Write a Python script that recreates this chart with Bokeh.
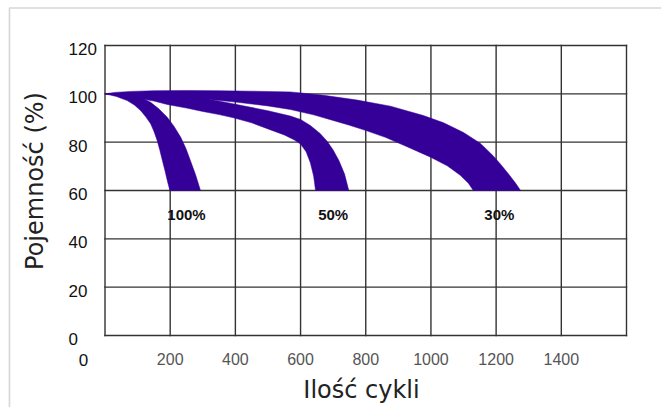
import math
from bokeh.plotting import figure
from bokeh.models import Range1d, ColumnDataSource, LabelSet, Label, BoxAnnotation
from bokeh.core.properties import value
from bokeh.embed import file_html
from bokeh.resources import INLINE

# ---- data -------------------------------------------------------------
x_grid_ticks = [0, 200, 400, 600, 800, 1000, 1200, 1400, 1600]
x_label_ticks = [200, 400, 600, 800, 1000, 1200, 1400]
x_tick_labels = ["200", "400", "600", "800", "1000", "1200", "1400"]
y_ticks = [0, 20, 40, 60, 80, 100, 120]
y_tick_labels = ["0", "20", "40", "60", "80", "100", "120"]

x_title = "Ilość cykli"
y_title = "Pojemność (%)"

band_names = ["100%", "50%", "30%"]
band_label_x = [250, 700, 1210]
band_label_y = [50, 50, 50]

# 100% depth of discharge band
d100_upper_x = [0, 40, 87, 115, 140, 165, 191, 212, 232, 248, 262, 278, 293]
d100_upper_y = [100, 99.8, 99.3, 98.2, 96.5, 93.8, 90.3, 86.5, 82.1, 77.5, 72.4, 66.5, 60]
d100_lower_x = [0, 35, 68, 90, 109, 125, 140, 150, 160, 168, 176, 184, 191, 199]
d100_lower_y = [100, 98.9, 97.2, 95.4, 93.1, 90.5, 87.6, 84.5, 80.7, 76.8, 72.4, 68.2, 64.1, 60]

# 50% depth of discharge band
d50_upper_x = [0, 80, 150, 250, 313, 400, 500, 569, 600, 630, 660, 682, 700, 718, 735, 748]
d50_upper_y = [100, 100.4, 100.1, 99.0, 98.0, 95.7, 93.0, 90.8, 89.4, 86.9, 83.6, 80.3, 76.8, 72.3, 66.8, 60]
d50_lower_x = [0, 50, 100, 150, 191, 250, 300, 350, 394, 450, 500, 550, 580, 600, 617, 630, 640, 646]
d50_lower_y = [100, 99.2, 98.2, 97.0, 95.6, 94.1, 92.7, 91.4, 90.1, 88.0, 85.5, 83.0, 81.0, 79.2, 76.0, 71.5, 66.0, 60]

# 30% depth of discharge band
d30_upper_x = [0, 30, 80, 150, 250, 350, 450, 569, 671, 774, 876, 977, 1039, 1100, 1152, 1190, 1213, 1240, 1260, 1275]
d30_upper_y = [100, 100.6, 101.0, 101.3, 101.4, 101.3, 101.1, 100.8, 99.4, 97.4, 94.9, 91.0, 88.0, 84.0, 79.5, 74.5, 71.0, 66.5, 63.0, 60]
d30_lower_x = [0, 100, 200, 313, 400, 500, 569, 640, 692, 750, 801, 860, 920, 999, 1050, 1090, 1115, 1130]
d30_lower_y = [100, 99.6, 98.9, 97.8, 96.6, 95.0, 93.5, 91.3, 89.3, 87.0, 84.8, 82.0, 78.5, 73.8, 70.2, 66.3, 63.0, 60]

# ---- layout geometry (pixels) ------------------------------------------
W, H = 661, 407
PLOT_LEFT, PLOT_RIGHT = 104.5, 626.0      # pixel of x=0 and x=1600
PLOT_BOTTOM, PLOT_TOP = 335.0, 45.0       # pixel of y=0 and y=120
X_MIN, X_MAX = 0, 1600
Y_MIN, Y_MAX = 0, 120
sx = (PLOT_RIGHT - PLOT_LEFT) / (X_MAX - X_MIN)
sy = (PLOT_BOTTOM - PLOT_TOP) / (Y_MAX - Y_MIN)


def dx(px):
    return X_MIN + (px - PLOT_LEFT) / sx


def dy(py):
    return Y_MIN + (PLOT_BOTTOM - py) / sy


p = figure(width=W, height=H,
           x_range=Range1d(dx(0), dx(W)), y_range=Range1d(dy(H), dy(0)),
           output_backend="svg", toolbar_location=None,
           x_axis_location=None, y_axis_location=None,
           min_border=0)
p.grid.visible = False
p.outline_line_color = None
p.background_fill_color = "white"
p.border_fill_color = "white"

# outer gray frame (left and top edges)
p.add_layout(BoxAnnotation(left=dx(9), right=dx(W + 20), top=dy(7.5), bottom=dy(H + 20),
                           fill_color=None, line_color="#7d7d7d", line_width=1.7))

# grid
grid_color = "#333333"
p.segment(x0=x_grid_ticks, y0=[Y_MIN] * len(x_grid_ticks),
          x1=x_grid_ticks, y1=[Y_MAX] * len(x_grid_ticks),
          line_color=grid_color, line_width=1.4, line_cap="square")
p.segment(x0=[X_MIN] * len(y_ticks), y0=y_ticks,
          x1=[X_MAX] * len(y_ticks), y1=y_ticks,
          line_color=grid_color, line_width=1.4, line_cap="square")

# bands
band_color = "#340098"
xs = [d100_upper_x + d100_lower_x[::-1],
      d50_upper_x + d50_lower_x[::-1],
      d30_upper_x + d30_lower_x[::-1]]
ys = [d100_upper_y + d100_lower_y[::-1],
      d50_upper_y + d50_lower_y[::-1],
      d30_upper_y + d30_lower_y[::-1]]
p.patches(xs=xs, ys=ys, fill_color=band_color, line_color=band_color, line_width=0.5)

# band labels
bsrc = ColumnDataSource(dict(x=band_label_x, y=band_label_y, t=band_names))
p.add_layout(LabelSet(x="x", y="y", text="t", source=bsrc,
                      text_align="center", text_baseline="middle",
                      text_font=value("Liberation Sans"), text_font_style="bold",
                      text_font_size="15px", text_color="#111111"))

# y tick labels (left aligned, slightly below their grid line)
ysrc = ColumnDataSource(dict(x=[dx(68)] * len(y_ticks),
                             y=[t - 3.5 / sy for t in y_ticks], t=y_tick_labels))
p.add_layout(LabelSet(x="x", y="y", text="t", source=ysrc,
                      text_align="left", text_baseline="middle",
                      text_font=value("Liberation Sans"),
                      text_font_size="17px", text_color="#111111"))

# x tick labels
xsrc = ColumnDataSource(dict(x=x_label_ticks, y=[dy(358.5)] * len(x_label_ticks),
                             t=x_tick_labels))
p.add_layout(LabelSet(x="x", y="y", text="t", source=xsrc,
                      text_align="center", text_baseline="middle",
                      text_font=value("Liberation Sans"),
                      text_font_size="16px", text_color="#555555"))

# extra "0" under the origin
p.add_layout(Label(x=dx(83), y=dy(359), text="0",
                   text_align="center", text_baseline="middle",
                   text_font="Liberation Sans", text_font_size="17px",
                   text_color="#111111"))

# axis titles
p.add_layout(Label(x=dx(361), y=dy(389.5), text=x_title,
                   text_align="center", text_baseline="middle",
                   text_font="DejaVu Sans", text_font_size="24px",
                   text_color="#222222"))
p.add_layout(Label(x=dx(34.5), y=dy(180.5), text=y_title, angle=math.pi / 2,
                   text_align="center", text_baseline="middle",
                   text_font="DejaVu Sans", text_font_size="24px",
                   text_color="#222222"))

open("out.html", "w").write(file_html(p, INLINE))
